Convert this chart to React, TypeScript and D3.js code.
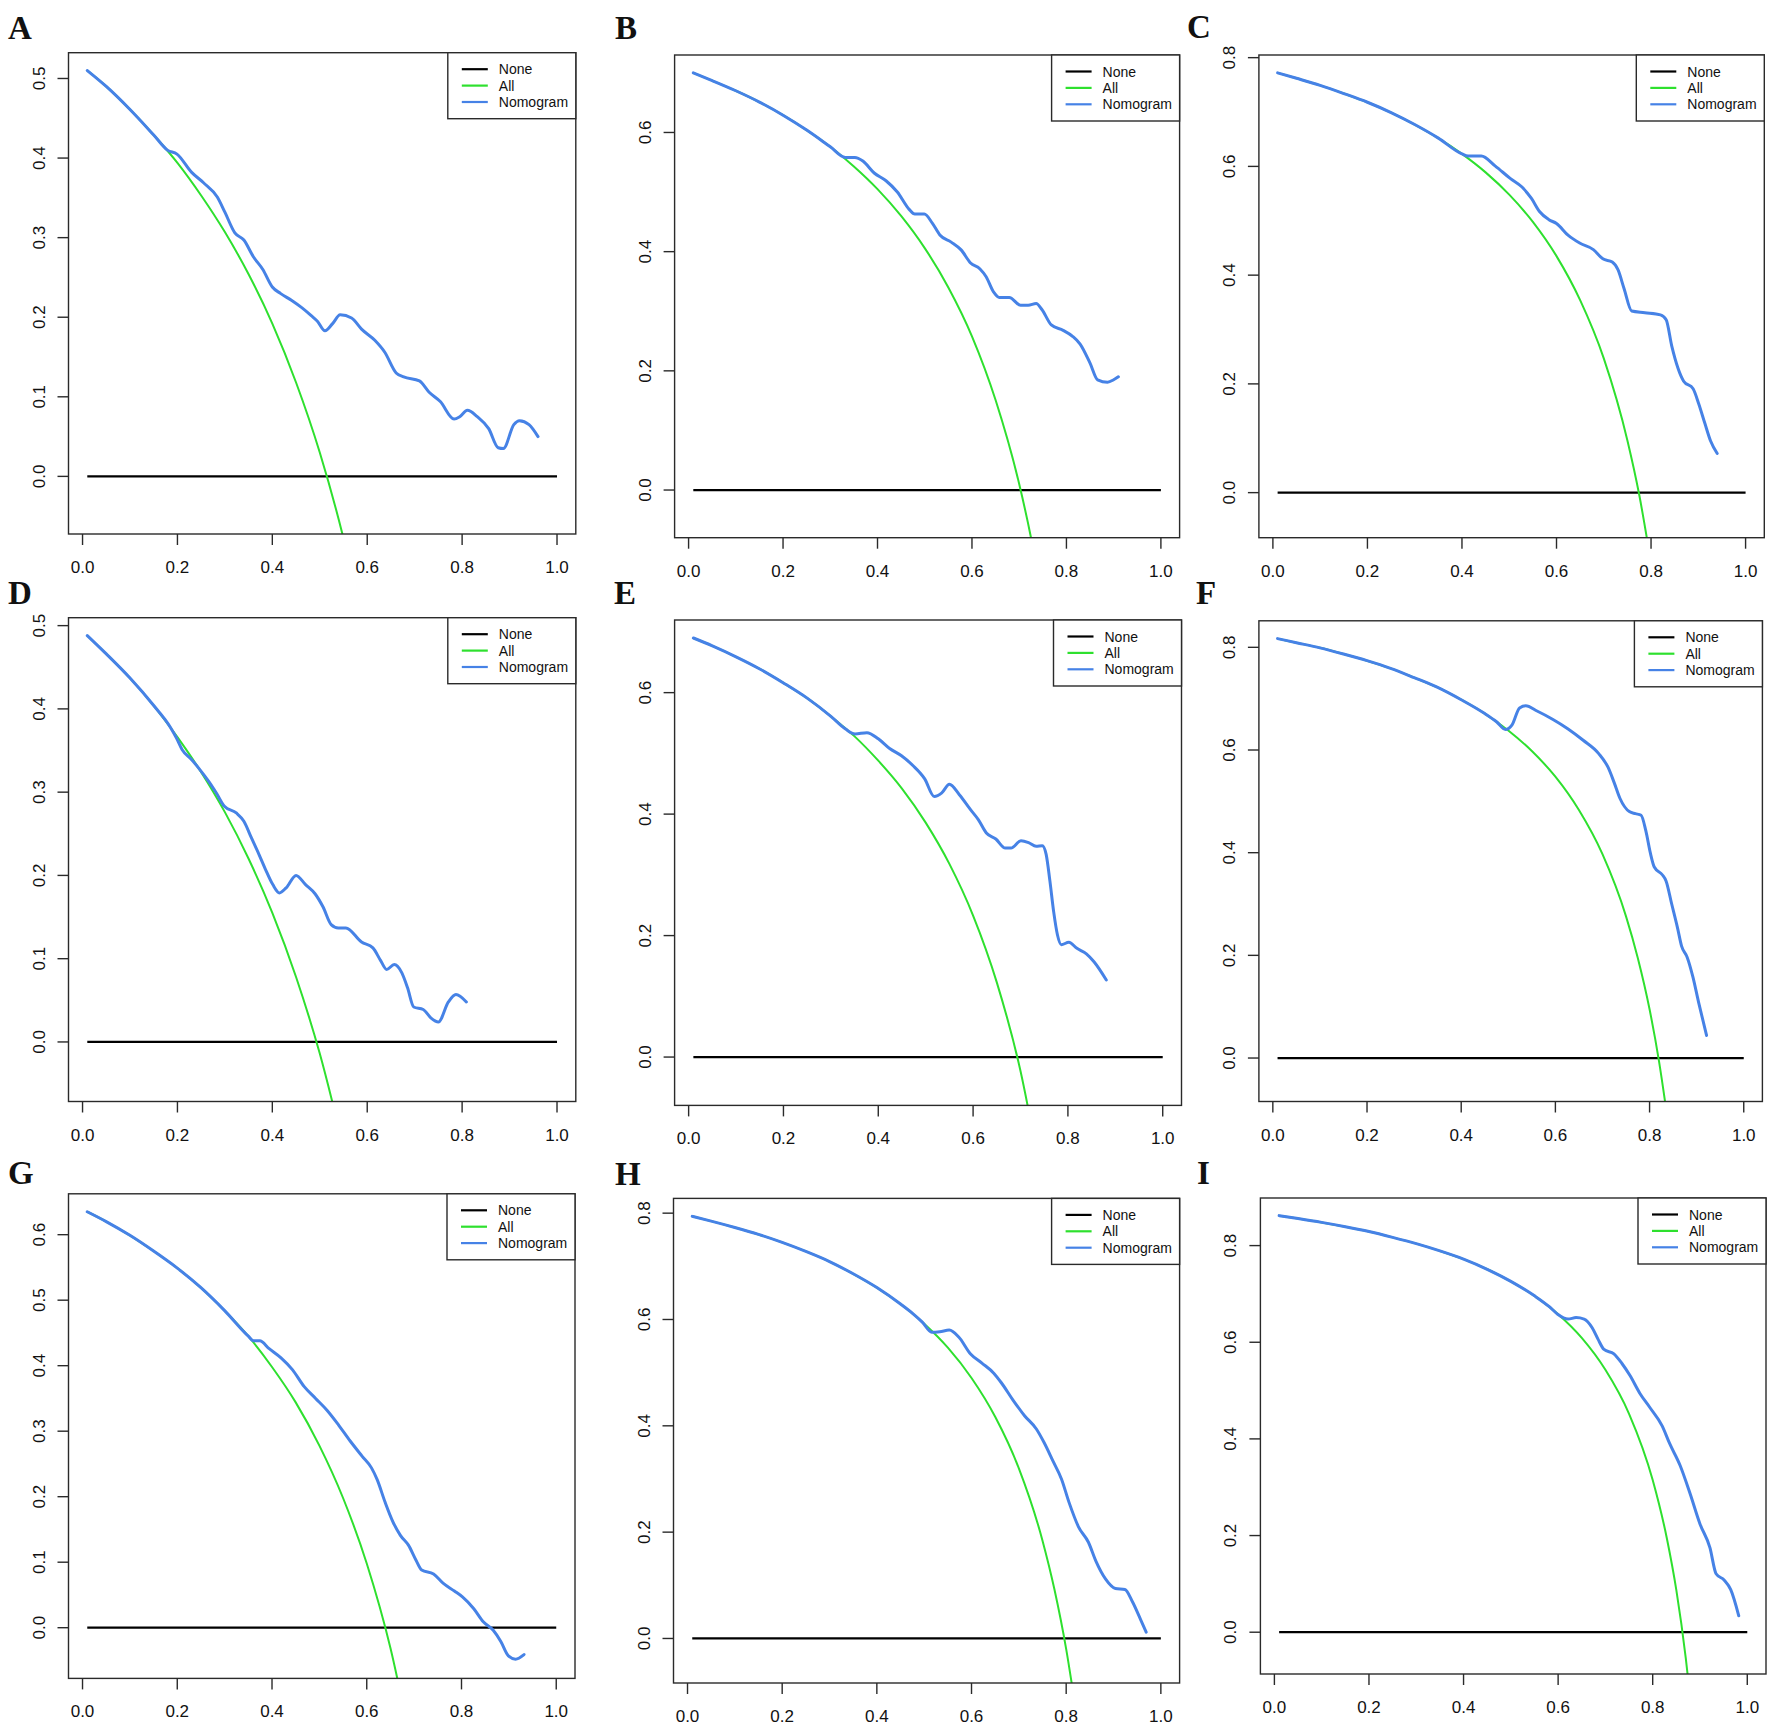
import React from 'react';
import * as d3 from 'd3';

// axis + legend text
const xTicks = [0, 0.2, 0.4, 0.6, 0.8, 1.0];
const legendLabels = ['None', 'All', 'Nomogram'];
const lineColors = ['#000000', '#2ee02e', '#4682e6'];
const panelLetters = ['A', 'B', 'C', 'D', 'E', 'F', 'G', 'H', 'I'];

// "None" reference line (net benefit 0)
const noneLine = [[0.01, 0], [1.0, 0]];

// panel A
const yTicksA = [0, 0.1, 0.2, 0.3, 0.4, 0.5];
const allA = [[0.01, 0.510], [0.05, 0.490], [0.1, 0.461], [0.15, 0.429], [0.2, 0.394], [0.25, 0.353], [0.3, 0.307], [0.35, 0.254], [0.4, 0.192], [0.45, 0.118], [0.5, 0.030], [0.55, -0.078], [0.6, -0.213]];
const nomoA = [[0.01, 0.510], [0.05, 0.490], [0.1, 0.461], [0.15, 0.429], [0.179, 0.410], [0.199, 0.405], [0.23, 0.382], [0.255, 0.369], [0.284, 0.351], [0.3, 0.332], [0.321, 0.306], [0.34, 0.297], [0.36, 0.276], [0.38, 0.26], [0.4, 0.238], [0.417, 0.23], [0.441, 0.221], [0.462, 0.212], [0.482, 0.202], [0.495, 0.195], [0.511, 0.183], [0.527, 0.192], [0.543, 0.203], [0.567, 0.199], [0.588, 0.185], [0.616, 0.171], [0.637, 0.156], [0.661, 0.13], [0.677, 0.125], [0.71, 0.12], [0.73, 0.106], [0.754, 0.094], [0.783, 0.072], [0.795, 0.075], [0.811, 0.083], [0.832, 0.075], [0.856, 0.06], [0.876, 0.036], [0.887, 0.035], [0.909, 0.065], [0.921, 0.07], [0.941, 0.065], [0.96, 0.05]];

// panel B
const yTicksB = [0, 0.2, 0.4, 0.6];
const allB = [[0.01, 0.700], [0.05, 0.687], [0.1, 0.670], [0.15, 0.651], [0.2, 0.629], [0.25, 0.604], [0.3, 0.576], [0.35, 0.543], [0.4, 0.505], [0.45, 0.460], [0.5, 0.406], [0.55, 0.340], [0.6, 0.258], [0.65, 0.151], [0.7, 0.010], [0.725, -0.080], [0.75, -0.188]];
const nomoB = [[0.01, 0.700], [0.05, 0.687], [0.1, 0.670], [0.15, 0.651], [0.2, 0.629], [0.25, 0.604], [0.3, 0.576], [0.332, 0.558], [0.352, 0.558], [0.369, 0.552], [0.393, 0.532], [0.418, 0.519], [0.442, 0.5], [0.467, 0.471], [0.479, 0.463], [0.499, 0.463], [0.516, 0.448], [0.532, 0.428], [0.556, 0.416], [0.577, 0.403], [0.597, 0.381], [0.617, 0.371], [0.63, 0.358], [0.646, 0.332], [0.658, 0.323], [0.679, 0.323], [0.703, 0.31], [0.719, 0.31], [0.736, 0.313], [0.748, 0.303], [0.768, 0.277], [0.793, 0.268], [0.813, 0.258], [0.829, 0.245], [0.85, 0.213], [0.866, 0.185], [0.887, 0.181], [0.9, 0.185], [0.91, 0.19]];

// panel C
const yTicksC = [0, 0.2, 0.4, 0.6, 0.8];
const allC = [[0.01, 0.772], [0.05, 0.762], [0.1, 0.749], [0.15, 0.734], [0.2, 0.718], [0.25, 0.699], [0.3, 0.677], [0.35, 0.652], [0.4, 0.623], [0.45, 0.589], [0.5, 0.548], [0.55, 0.498], [0.6, 0.435], [0.65, 0.354], [0.7, 0.247], [0.75, 0.096], [0.775, -0.004], [0.8, -0.130]];
const nomoC = [[0.01, 0.772], [0.05, 0.762], [0.1, 0.749], [0.15, 0.734], [0.2, 0.718], [0.25, 0.699], [0.3, 0.677], [0.35, 0.652], [0.4, 0.623], [0.413, 0.619], [0.441, 0.619], [0.47, 0.601], [0.502, 0.578], [0.527, 0.562], [0.547, 0.541], [0.564, 0.517], [0.584, 0.502], [0.6, 0.495], [0.625, 0.473], [0.649, 0.459], [0.678, 0.447], [0.698, 0.43], [0.718, 0.424], [0.73, 0.41], [0.743, 0.375], [0.759, 0.334], [0.787, 0.331], [0.82, 0.327], [0.832, 0.318], [0.844, 0.269], [0.869, 0.205], [0.889, 0.191], [0.901, 0.163], [0.914, 0.127], [0.926, 0.095], [0.94, 0.072]];

// panel D
const yTicksD = [0, 0.1, 0.2, 0.3, 0.4, 0.5];
const allD = [[0.01, 0.488], [0.05, 0.466], [0.1, 0.437], [0.15, 0.404], [0.2, 0.366], [0.25, 0.324], [0.3, 0.276], [0.35, 0.220], [0.4, 0.155], [0.45, 0.078], [0.5, -0.014], [0.55, -0.127]];
const nomoD = [[0.01, 0.488], [0.05, 0.466], [0.1, 0.437], [0.15, 0.404], [0.185, 0.378], [0.198, 0.365], [0.21, 0.351], [0.23, 0.339], [0.246, 0.328], [0.267, 0.312], [0.283, 0.298], [0.299, 0.283], [0.324, 0.275], [0.34, 0.265], [0.356, 0.245], [0.372, 0.225], [0.385, 0.208], [0.401, 0.189], [0.415, 0.179], [0.429, 0.185], [0.45, 0.2], [0.47, 0.189], [0.49, 0.178], [0.507, 0.162], [0.524, 0.141], [0.539, 0.137], [0.555, 0.137], [0.588, 0.12], [0.612, 0.113], [0.628, 0.098], [0.641, 0.087], [0.657, 0.093], [0.673, 0.083], [0.685, 0.065], [0.698, 0.042], [0.718, 0.039], [0.734, 0.029], [0.75, 0.024], [0.771, 0.048], [0.787, 0.057], [0.809, 0.048]];

// panel E
const yTicksE = [0, 0.2, 0.4, 0.6];
const allE = [[0.01, 0.690], [0.05, 0.677], [0.1, 0.659], [0.15, 0.639], [0.2, 0.616], [0.25, 0.591], [0.3, 0.561], [0.35, 0.528], [0.4, 0.488], [0.45, 0.442], [0.5, 0.386], [0.55, 0.318], [0.6, 0.233], [0.65, 0.123], [0.7, -0.023], [0.75, -0.228]];
const nomoE = [[0.01, 0.690], [0.05, 0.677], [0.1, 0.659], [0.15, 0.639], [0.2, 0.616], [0.25, 0.591], [0.3, 0.561], [0.331, 0.540], [0.351, 0.532], [0.376, 0.534], [0.4, 0.524], [0.424, 0.508], [0.449, 0.496], [0.473, 0.48], [0.498, 0.458], [0.518, 0.429], [0.534, 0.435], [0.55, 0.449], [0.571, 0.432], [0.595, 0.407], [0.611, 0.391], [0.628, 0.369], [0.648, 0.359], [0.668, 0.344], [0.68, 0.344], [0.701, 0.356], [0.717, 0.353], [0.733, 0.347], [0.746, 0.348], [0.754, 0.334], [0.762, 0.29], [0.77, 0.239], [0.778, 0.201], [0.786, 0.185], [0.802, 0.189], [0.819, 0.179], [0.839, 0.17], [0.855, 0.157], [0.881, 0.127]];

// panel F
const yTicksF = [0, 0.2, 0.4, 0.6, 0.8];
const allF = [[0.01, 0.817], [0.05, 0.809], [0.1, 0.799], [0.15, 0.787], [0.2, 0.774], [0.25, 0.759], [0.3, 0.741], [0.35, 0.722], [0.4, 0.698], [0.45, 0.671], [0.5, 0.638], [0.55, 0.598], [0.6, 0.548], [0.65, 0.483], [0.7, 0.397], [0.75, 0.276], [0.775, 0.195], [0.8, 0.095], [0.82, -0.006], [0.84, -0.131]];
const nomoF = [[0.01, 0.817], [0.05, 0.809], [0.1, 0.799], [0.15, 0.787], [0.2, 0.774], [0.25, 0.759], [0.3, 0.741], [0.35, 0.722], [0.4, 0.698], [0.45, 0.671], [0.475, 0.655], [0.494, 0.640], [0.508, 0.649], [0.524, 0.682], [0.537, 0.686], [0.561, 0.676], [0.594, 0.66], [0.627, 0.641], [0.659, 0.619], [0.692, 0.593], [0.712, 0.566], [0.725, 0.536], [0.737, 0.506], [0.757, 0.48], [0.77, 0.476], [0.782, 0.473], [0.792, 0.443], [0.802, 0.398], [0.81, 0.372], [0.827, 0.357], [0.835, 0.345], [0.847, 0.3], [0.859, 0.255], [0.868, 0.218], [0.88, 0.196], [0.892, 0.158], [0.904, 0.109], [0.921, 0.044]];

// panel G
const yTicksG = [0, 0.1, 0.2, 0.3, 0.4, 0.5, 0.6];
const allG = [[0.01, 0.635], [0.05, 0.620], [0.1, 0.599], [0.15, 0.575], [0.2, 0.549], [0.25, 0.519], [0.3, 0.484], [0.35, 0.445], [0.4, 0.398], [0.45, 0.344], [0.5, 0.278], [0.55, 0.198], [0.6, 0.098], [0.65, -0.031], [0.7, -0.203]];
const nomoG = [[0.01, 0.635], [0.05, 0.620], [0.1, 0.599], [0.15, 0.575], [0.2, 0.549], [0.25, 0.519], [0.3, 0.484], [0.35, 0.445], [0.361, 0.438], [0.374, 0.438], [0.394, 0.426], [0.419, 0.412], [0.443, 0.394], [0.468, 0.368], [0.492, 0.35], [0.516, 0.332], [0.541, 0.309], [0.565, 0.285], [0.59, 0.262], [0.61, 0.244], [0.622, 0.226], [0.639, 0.191], [0.655, 0.162], [0.671, 0.141], [0.688, 0.126], [0.704, 0.103], [0.716, 0.088], [0.741, 0.082], [0.761, 0.068], [0.785, 0.056], [0.802, 0.047], [0.826, 0.029], [0.846, 0.009], [0.867, -0.004], [0.883, -0.021], [0.899, -0.043], [0.914, -0.048], [0.932, -0.041]];

// panel H
const yTicksH = [0, 0.2, 0.4, 0.6, 0.8];
const allH = [[0.01, 0.794], [0.05, 0.785], [0.1, 0.773], [0.15, 0.760], [0.2, 0.745], [0.25, 0.728], [0.3, 0.709], [0.35, 0.686], [0.4, 0.660], [0.45, 0.629], [0.5, 0.592], [0.55, 0.547], [0.6, 0.490], [0.65, 0.417], [0.7, 0.320], [0.75, 0.184], [0.775, 0.093], [0.8, -0.020], [0.82, -0.133]];
const nomoH = [[0.01, 0.794], [0.05, 0.785], [0.1, 0.773], [0.15, 0.760], [0.2, 0.745], [0.25, 0.728], [0.3, 0.709], [0.35, 0.686], [0.4, 0.660], [0.45, 0.629], [0.476, 0.611], [0.496, 0.595], [0.516, 0.576], [0.533, 0.577], [0.553, 0.58], [0.573, 0.567], [0.598, 0.535], [0.622, 0.518], [0.647, 0.499], [0.663, 0.481], [0.688, 0.448], [0.712, 0.419], [0.737, 0.394], [0.753, 0.369], [0.773, 0.332], [0.79, 0.3], [0.806, 0.256], [0.826, 0.21], [0.847, 0.181], [0.863, 0.145], [0.883, 0.112], [0.904, 0.094], [0.924, 0.092], [0.94, 0.069], [0.957, 0.036], [0.969, 0.012]];

// panel I
const yTicksI = [0, 0.2, 0.4, 0.6, 0.8];
const allI = [[0.01, 0.862], [0.05, 0.856], [0.1, 0.848], [0.15, 0.839], [0.2, 0.829], [0.25, 0.817], [0.3, 0.804], [0.35, 0.789], [0.4, 0.772], [0.45, 0.751], [0.5, 0.726], [0.55, 0.696], [0.6, 0.658], [0.65, 0.609], [0.7, 0.543], [0.75, 0.452], [0.8, 0.315], [0.83, 0.194], [0.85, 0.087], [0.87, -0.054], [0.88, -0.142]];
const nomoI = [[0.01, 0.862], [0.05, 0.856], [0.1, 0.848], [0.15, 0.839], [0.2, 0.829], [0.25, 0.817], [0.3, 0.804], [0.35, 0.789], [0.4, 0.772], [0.45, 0.751], [0.5, 0.726], [0.55, 0.696], [0.582, 0.673], [0.599, 0.658], [0.621, 0.648], [0.638, 0.651], [0.655, 0.648], [0.672, 0.63], [0.684, 0.607], [0.697, 0.585], [0.718, 0.576], [0.735, 0.556], [0.752, 0.531], [0.773, 0.494], [0.794, 0.465], [0.82, 0.427], [0.836, 0.39], [0.858, 0.345], [0.879, 0.287], [0.9, 0.224], [0.921, 0.175], [0.934, 0.121], [0.951, 0.108], [0.965, 0.088], [0.982, 0.034]];

const allSeries = [allA, allB, allC, allD, allE, allF, allG, allH, allI];
const nomoSeries = [nomoA, nomoB, nomoC, nomoD, nomoE, nomoF, nomoG, nomoH, nomoI];
const yTickSets = [yTicksA, yTicksB, yTicksC, yTicksD, yTicksE, yTicksF, yTicksG, yTicksH, yTicksI];

// layout: plot boxes [left, top, right, bottom] and panel letter anchors
const boxes = [
  [68.5, 52.7, 575.8, 534], [674.6, 55, 1179.6, 537.7], [1258.9, 55, 1764.3, 537.7],
  [68.5, 617.7, 575.8, 1101.5], [674.6, 620, 1181.5, 1105.4], [1258.9, 620.8, 1762.4, 1101.5],
  [68.5, 1193.8, 575, 1678.4], [673.5, 1198.4, 1179.6, 1683], [1260.4, 1198, 1766, 1674],
];
const letterAt = [
  [8, 38.5], [615, 38.5], [1187, 37.5],
  [8, 603.5], [614, 603.5], [1196, 603.5],
  [8, 1184], [615, 1185], [1197, 1184],
];

const axisFont = '"Liberation Sans", Arial, sans-serif';
const frame = '#2a2a2a';

const Panel = ({ i }: { i: number }) => {
  const [left, top, right, bottom] = boxes[i];
  const all = allSeries[i];
  const nomo = nomoSeries[i];
  const yTicks = yTickSets[i];

  // R style limits: data range padded by 4%
  const xPad = (1.0 - 0.01) * 0.04;
  const xScale = d3.scaleLinear().domain([0.01 - xPad, 1.0 + xPad]).range([left, right]);
  const yMax = d3.max([...all, ...nomo], d => d[1]) as number;
  const yMin = -0.05;
  const yPad = (yMax - yMin) * 0.04;
  const yScale = d3.scaleLinear().domain([yMin - yPad, yMax + yPad]).range([bottom, top]);

  const smooth = d3.line<number[]>()
    .x(d => xScale(d[0]))
    .y(d => yScale(d[1]))
    .curve(d3.curveMonotoneX);
  const straight = d3.line<number[]>()
    .x(d => xScale(d[0]))
    .y(d => yScale(d[1]));

  const clipId = `clip-${i}`;
  const legW = 128;
  const legH = 66;
  const legX = right - legW;

  return (
    <g>
      <defs>
        <clipPath id={clipId}>
          <rect x={left} y={top} width={right - left} height={bottom - top} />
        </clipPath>
      </defs>

      <text x={letterAt[i][0]} y={letterAt[i][1]} fontFamily='"Liberation Serif", "Times New Roman", serif'
        fontWeight="bold" fontSize={33} fill="#111">{panelLetters[i]}</text>

      <g clipPath={`url(#${clipId})`} fill="none">
        <path d={straight(noneLine) || ''} stroke={lineColors[0]} strokeWidth={2.2} />
        <path d={smooth(all) || ''} stroke={lineColors[1]} strokeWidth={2} />
        <path d={smooth(nomo) || ''} stroke={lineColors[2]} strokeWidth={3} strokeLinejoin="round" strokeLinecap="round" />
      </g>

      <rect x={left} y={top} width={right - left} height={bottom - top} fill="none" stroke={frame} strokeWidth={1.4} />

      {xTicks.map(t => (
        <g key={'x' + t}>
          <line x1={xScale(t)} x2={xScale(t)} y1={bottom} y2={bottom + 11} stroke={frame} strokeWidth={1.4} />
          <text x={xScale(t)} y={bottom + 39} textAnchor="middle" fontFamily={axisFont} fontSize={17} fill="#111">
            {t.toFixed(1)}
          </text>
        </g>
      ))}

      {yTicks.map(t => (
        <g key={'y' + t}>
          <line x1={left - 11} x2={left} y1={yScale(t)} y2={yScale(t)} stroke={frame} strokeWidth={1.4} />
          <text transform={`translate(${left - 24},${yScale(t)}) rotate(-90)`} textAnchor="middle"
            fontFamily={axisFont} fontSize={17} fill="#111">
            {t.toFixed(1)}
          </text>
        </g>
      ))}

      <rect x={legX} y={top} width={legW} height={legH} fill="#fff" stroke={frame} strokeWidth={1.4} />
      {legendLabels.map((lab, k) => {
        const ry = top + 16.5 + k * 16.4;
        return (
          <g key={lab}>
            <line x1={legX + 14} x2={legX + 40} y1={ry} y2={ry} stroke={lineColors[k]} strokeWidth={2.2} />
            <text x={legX + 51} y={ry + 5} fontFamily={axisFont} fontSize={14} fill="#111">{lab}</text>
          </g>
        );
      })}
    </g>
  );
};

const App = () => {
  return (
    <svg width={1772} height={1733} style={{ position: 'absolute', left: 0, top: 0, background: '#fff' }}>
      <rect x={0} y={0} width={1772} height={1733} fill="#fff" />
      {panelLetters.map((_, i) => <Panel key={i} i={i} />)}
    </svg>
  );
};

export default App;
